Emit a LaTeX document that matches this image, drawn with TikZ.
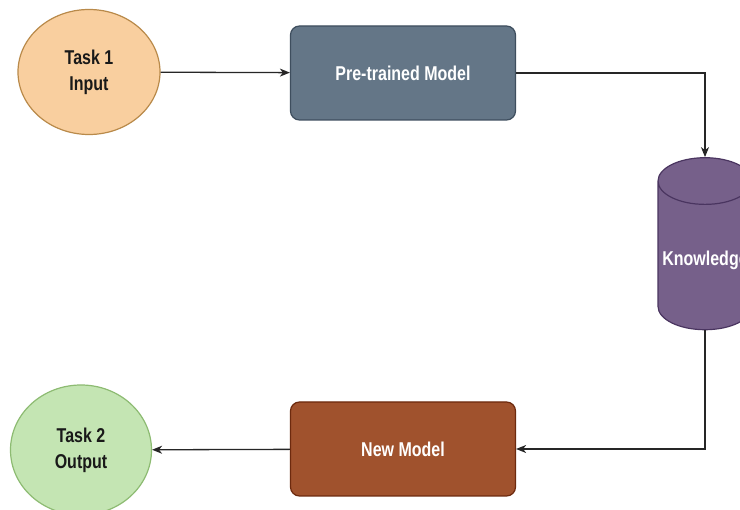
\documentclass[tikz,border=0pt]{standalone}
\usepackage{fontspec}
\newfontfamily\boxfont{Liberation Sans}[FakeStretch=0.8]
\usetikzlibrary{shapes.geometric,arrows.meta}
\definecolor{taskorange}{HTML}{F9CF9F}
\definecolor{taskorangeline}{HTML}{B98A4A}
\definecolor{taskgreen}{HTML}{C4E5B3}
\definecolor{taskgreenline}{HTML}{8DBB72}
\definecolor{slatefill}{HTML}{647687}
\definecolor{slateline}{HTML}{3E4E5E}
\definecolor{plumfill}{HTML}{76608A}
\definecolor{plumline}{HTML}{4A3560}
\definecolor{rustfill}{HTML}{A0522D}
\definecolor{rustline}{HTML}{6D2A0E}
\tikzset{
  task/.style={ellipse, draw, line width=1.2pt, align=center, text=black!90,
    font=\boxfont\bfseries\fontsize{20}{26}\selectfont},
  model/.style={rectangle, rounded corners=9pt, draw, line width=1.2pt, text=white,
    minimum width=225pt, minimum height=94pt, font=\boxfont\bfseries\fontsize{20}{26}\selectfont},
  link/.style={->, line width=1.3pt, black!85}
}
\begin{document}
\begin{tikzpicture}[x=1pt, y=-1pt, >={Stealth[length=10pt,width=8pt,inset=3pt]}]
\useasboundingbox (0,0) rectangle (740,510);
\clip (0,0) rectangle (740,510);
\fill[white] (0,0) rectangle (740,510);

\node[task, fill=taskorange, draw=taskorangeline, minimum width=142pt, minimum height=125pt] (t1) at (89,72) {Task 1\\Input};
\node[model, fill=slatefill, draw=slateline] (pm) at (403,73) {Pre-trained Model};
\node[cylinder, shape border rotate=90, aspect=7, draw=plumline, fill=plumfill, line width=1.2pt,
  minimum width=94pt, minimum height=172pt,
  label={[text=white, font=\boxfont\bfseries\fontsize{20}{26}\selectfont]center:Knowledge}] (kn) at (705,260) {};
\node[model, fill=rustfill, draw=rustline] (nm) at (403,449) {New Model};
\node[task, fill=taskgreen, draw=taskgreenline, minimum width=141pt, minimum height=130pt] (t2) at (81,450) {Task 2\\Output};

\draw[link] (t1) -- (pm);
\draw[link] (pm.east) -| (kn.north);
\draw[link] (kn.south) |- (nm.east);
\draw[link] (nm) -- (t2);

\end{tikzpicture}
\end{document}
